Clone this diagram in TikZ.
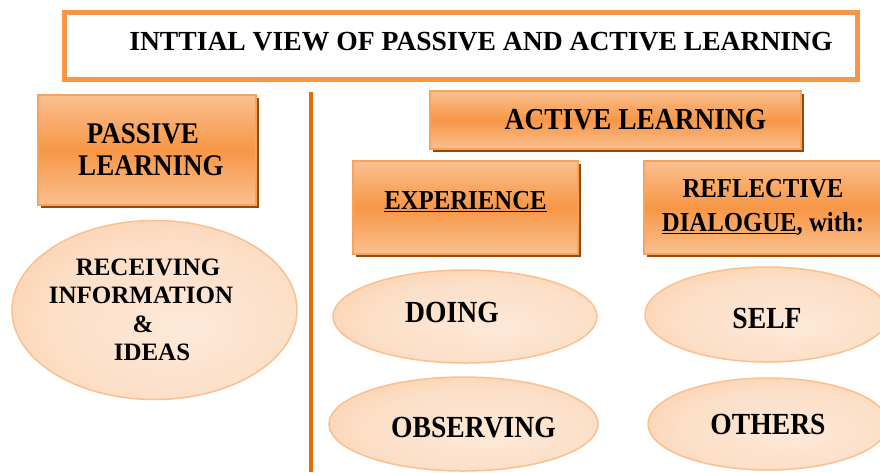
\documentclass[tikz,border=0pt]{standalone}
\usepackage{fontspec}
\newfontfamily\tnr{Liberation Serif}
\newfontfamily\tnrtall[FakeStretch=0.9]{Liberation Serif}
\usetikzlibrary{shapes.geometric,shadows}

\definecolor{orMid}{HTML}{F79646}
\definecolor{orLight}{HTML}{FAC090}
\definecolor{orPale}{HTML}{FDE9D9}
\definecolor{orDark}{HTML}{984807}
\definecolor{orLine}{HTML}{E36C09}

\pgfdeclareradialshading{ovalshade}{\pgfpoint{6bp}{-6bp}}{color(0bp)=(orPale); color(22bp)=(orPale!75!orLight); color(50bp)=(orLight!90!orMid)}

\begin{document}
\begin{tikzpicture}[x=1pt, y=-1pt,
  head node/.style={rectangle, draw=orMid!70!orLight, line width=1.5pt, top color=orLight, bottom color=orLight, middle color=orMid, drop shadow={shadow xshift=3pt, shadow yshift=-3pt, fill=orDark, opacity=1}, font=\tnrtall\fontsize{30}{32}\selectfont\bfseries, align=center, inner sep=0pt},
  oval node/.style={ellipse, draw=orLight, line width=1.5pt, shading=ovalshade, font=\tnrtall\fontsize{30.7}{30}\selectfont\bfseries, align=center, inner sep=0pt}]
\clip (0,0) rectangle (880,472);

% title
\node[rectangle, draw=orMid, line width=5pt, minimum width=793pt, minimum height=67pt, text depth=9pt, font=\tnr\fontsize{27.6}{30}\selectfont\bfseries] (titlebox) at (461,46) {\hspace*{40pt}INTTIAL VIEW OF PASSIVE AND ACTIVE LEARNING};

% divider
\coordinate (divtop) at (310.5,92);
\coordinate (divbot) at (310.5,472);
\draw[orLine, line width=4pt] (divtop) -- (divbot);

% passive side
\node[head node, minimum width=218pt, minimum height=110pt] (passive) at (147,150) {\hspace*{-8pt}PASSIVE\\\hspace*{8pt}LEARNING};
\node[oval node, minimum width=285pt, minimum height=179pt, font=\tnr\fontsize{25}{28.5}\selectfont\bfseries] (receiving) at (154.5,310) {\hspace*{-13pt}RECEIVING\\\hspace*{-27pt}INFORMATION\\\hspace*{-23pt}\&\\\hspace*{-5pt}IDEAS};

% active side
\node[head node, minimum width=371pt, minimum height=58pt, font=\tnrtall\fontsize{30.5}{32}\selectfont\bfseries] (active) at (615.5,120) {\hspace*{40pt}ACTIVE LEARNING};
\node[head node, minimum width=225pt, minimum height=93pt, text depth=15pt, font=\tnrtall\fontsize{27.5}{32}\selectfont\bfseries] (experience) at (465.5,207.5) {\underline{EXPERIENCE}};
\node[head node, minimum width=238pt, minimum height=93pt, font=\tnrtall\fontsize{27.5}{34}\selectfont\bfseries] (reflective) at (763,207.5) {REFLECTIVE\\\underline{DIALOGUE}, with:};

% ovals
\node[oval node, minimum width=264pt, minimum height=93pt, text depth=9pt] (doing) at (465,316.5) {\hspace*{-26pt}DOING};
\node[oval node, minimum width=244pt, minimum height=95pt, text height=27pt, text depth=0pt] (self) at (767,314.5) {SELF};
\node[oval node, minimum width=269pt, minimum height=94pt, text height=26pt, text depth=0pt] (observing) at (463.5,424) {\hspace*{20pt}OBSERVING};
\node[oval node, minimum width=240pt, minimum height=92pt] (others) at (768,424) {OTHERS};

\end{tikzpicture}
\end{document}
